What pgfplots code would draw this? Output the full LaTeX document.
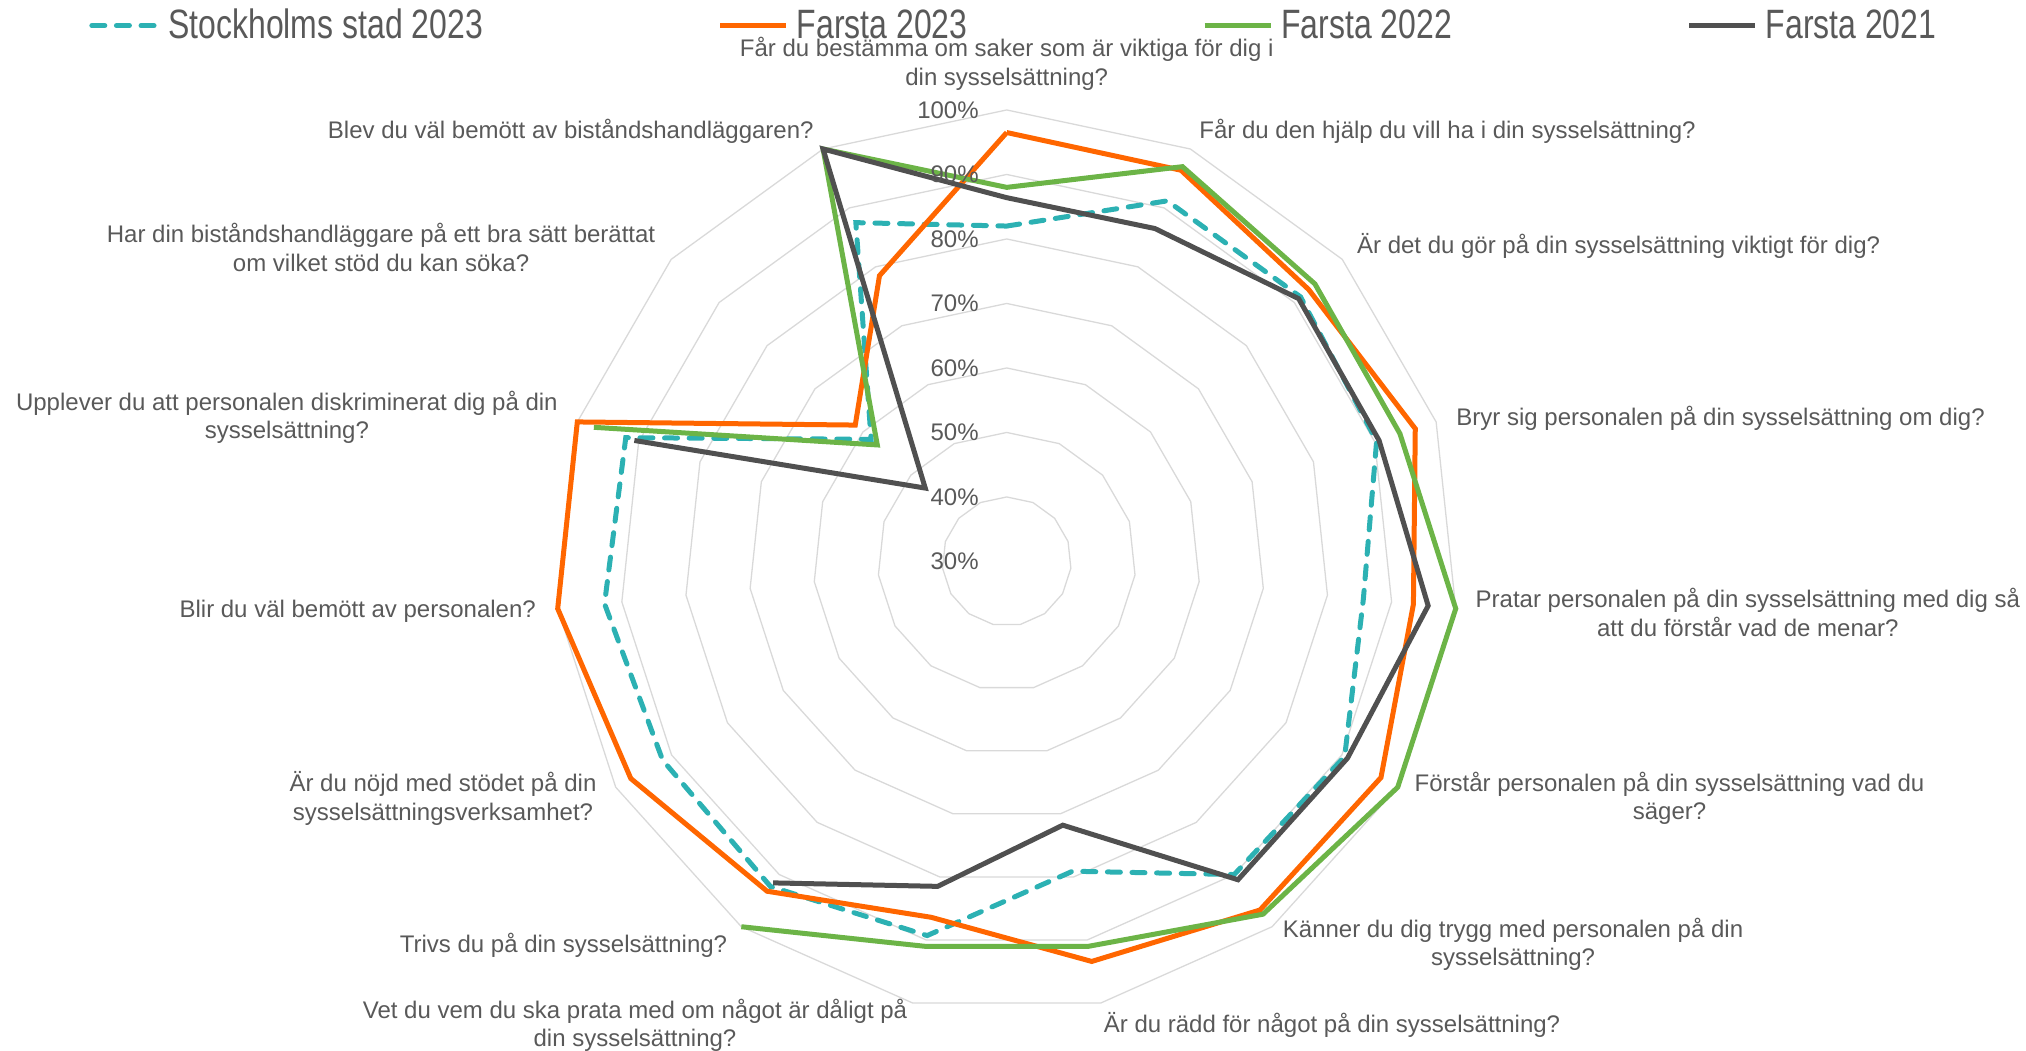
\documentclass[border=0pt]{standalone}
\usepackage{pgfplots}
\pgfplotsset{compat=1.18}
\usepackage{pgfplotstable}
\usepackage{fontspec}
\setmainfont{Liberation Sans}
\newfontfamily\narrowfont[FakeStretch=0.78]{Liberation Sans}
\definecolor{txt}{HTML}{595959}
\definecolor{gridc}{HTML}{D9D9D9}
\definecolor{cS}{HTML}{2CB1B3}
\definecolor{cO}{HTML}{FF6600}
\definecolor{cG}{HTML}{6CB447}
\definecolor{cK}{HTML}{505050}

% angles of the 15 spokes, clockwise from the top (closing row repeats the first)
\pgfplotstableread{
a i
90 0
66 1
42 2
18 3
-6 4
-30 5
-54 6
-78 7
-102 8
-126 9
-150 10
-174 11
-198 12
-222 13
-246 14
-270 15
}\angles

% Stockholms stad 2023 (S) and Farsta 2023 (O), all 15 questions, closed
\pgfplotstableread{
a S O
90 82 96.5
66 91.2 96.4
42 91.3 93
18 90.3 96.6
-6 85.6 93.4
-30 90.5 97
-54 90 96.8
-78 79.1 93.4
-102 89.3 86.4
-126 92.3 93.2
-150 91.6 97.3
-174 92.7 100
-198 92.1 100
-222 58.3 61.6
-246 87.5 78.5
-270 82 96.5
}\tabA

% Farsta 2022 (G) and Farsta 2021 (K): no values for two questions
\pgfplotstableread{
a G K
162 97.3 90.7
138 57 47
114 100 100
90 88 86.4
66 97 86.5
42 94.3 90.9
18 94.1 90.7
-6 100 95.7
-30 100 91
-54 97.6 91
-78 91 71.8
-102 91 81.5
-126 100 91.6
}\tabB

\tikzset{lab/.style={font=\fontsize{12}{14.2}\selectfont, text=txt, align=center, inner sep=0pt}}

\begin{document}
\begin{tikzpicture}
\begin{axis}[
  x=3.225pt, y=3.225pt,
  xmin=-156.08, xmax=158.03, ymin=-75.89, ymax=87.05,
  hide axis, clip=false,
  legend columns=4,
  legend cell align=left,
  legend image code/.code={\draw[#1] (0pt,0pt) -- (33pt,0pt);},
  legend style={at={(axis description cs:0.0439,0.9756)}, anchor=west,
    draw=none, fill=none, inner sep=0pt,
    font=\narrowfont\fontsize{20.5}{24}\selectfont, text=txt,
    /tikz/every odd column/.append style={column sep=2pt},
    /tikz/every even column/.append style={column sep=115.4pt}},
]
\coordinate (SW) at (axis cs:-156.08,-75.89);
\coordinate (NE) at (axis cs:158.03,87.05);

\pgfplotsinvokeforeach{10,20,30,40,50,60,70}{
  \addplot[gridc, line width=0.65pt, forget plot]
    table[x expr={#1*cos(\thisrow{a})}, y expr={#1*sin(\thisrow{a})}] {\angles};
}

\addplot[cS, line width=2.5pt, line cap=round, dash pattern=on 6.5pt off 5.8pt]
  table[x expr={(\thisrow{S}-30)*cos(\thisrow{a})}, y expr={(\thisrow{S}-30)*sin(\thisrow{a})}] {\tabA};
\addlegendentry{Stockholms stad 2023}
\addplot[cO, line width=2.5pt]
  table[x expr={(\thisrow{O}-30)*cos(\thisrow{a})}, y expr={(\thisrow{O}-30)*sin(\thisrow{a})}] {\tabA};
\addlegendentry{Farsta 2023}
\addplot[cG, line width=2.5pt]
  table[x expr={(\thisrow{G}-30)*cos(\thisrow{a})}, y expr={(\thisrow{G}-30)*sin(\thisrow{a})}] {\tabB};
\addlegendentry{Farsta 2022}
\addplot[cK, line width=2.5pt]
  table[x expr={(\thisrow{K}-30)*cos(\thisrow{a})}, y expr={(\thisrow{K}-30)*sin(\thisrow{a})}] {\tabB};
\addlegendentry{Farsta 2021}

% radial tick labels
\node[lab, anchor=east] at (axis cs:-4.29,70) {100\%};
\node[lab, anchor=east] at (axis cs:-4.29,60) {90\%};
\node[lab, anchor=east] at (axis cs:-4.29,50) {80\%};
\node[lab, anchor=east] at (axis cs:-4.29,40) {70\%};
\node[lab, anchor=east] at (axis cs:-4.29,30) {60\%};
\node[lab, anchor=east] at (axis cs:-4.29,20) {50\%};
\node[lab, anchor=east] at (axis cs:-4.29,10) {40\%};
\node[lab, anchor=east] at (axis cs:-4.29,0) {30\%};

% category labels
\node[lab] at (axis cs:0,77.13) {Får du bestämma om saker som är viktiga för dig i\\din sysselsättning?};
\node[lab, anchor=west] at (axis cs:29.81,66.71) {Får du den hjälp du vill ha i din sysselsättning?};
\node[lab, anchor=west] at (axis cs:54.26,48.88) {Är det du gör på din sysselsättning viktigt för dig?};
\node[lab, anchor=west] at (axis cs:69.66,22.25) {Bryr sig personalen på din sysselsättning om dig?};
\node[lab] at (axis cs:114.9,-7.9) {Pratar personalen på din sysselsättning med dig så\\att du förstår vad de menar?};
\node[lab] at (axis cs:102.76,-36.74) {Förstår personalen på din sysselsättning vad du\\säger?};
\node[lab] at (axis cs:78.5,-59.38) {Känner du dig trygg med personalen på din\\sysselsättning?};
\node[lab] at (axis cs:50.43,-71.91) {Är du rädd för något på din sysselsättning?};
\node[lab] at (axis cs:-57.63,-71.91) {Vet du vem du ska prata med om något är dåligt på\\din sysselsättning?};
\node[lab, anchor=east] at (axis cs:-43.29,-59.49) {Trivs du på din sysselsättning?};
\node[lab] at (axis cs:-87.4,-36.74) {Är du nöjd med stödet på din\\sysselsättningsverksamhet?};
\node[lab, anchor=east] at (axis cs:-72.95,-7.78) {Blir du väl bemött av personalen?};
\node[lab] at (axis cs:-111.6,22.34) {Upplever du att personalen diskriminerat dig på din\\sysselsättning?};
\node[lab] at (axis cs:-97.0,48.68) {Har din biståndshandläggare på ett bra sätt berättat\\om vilket stöd du kan söka?};
\node[lab, anchor=east] at (axis cs:-29.88,66.71) {Blev du väl bemött av biståndshandläggaren?};
\end{axis}
\pgfresetboundingbox
\useasboundingbox (SW) rectangle (NE);
\end{tikzpicture}
\end{document}
